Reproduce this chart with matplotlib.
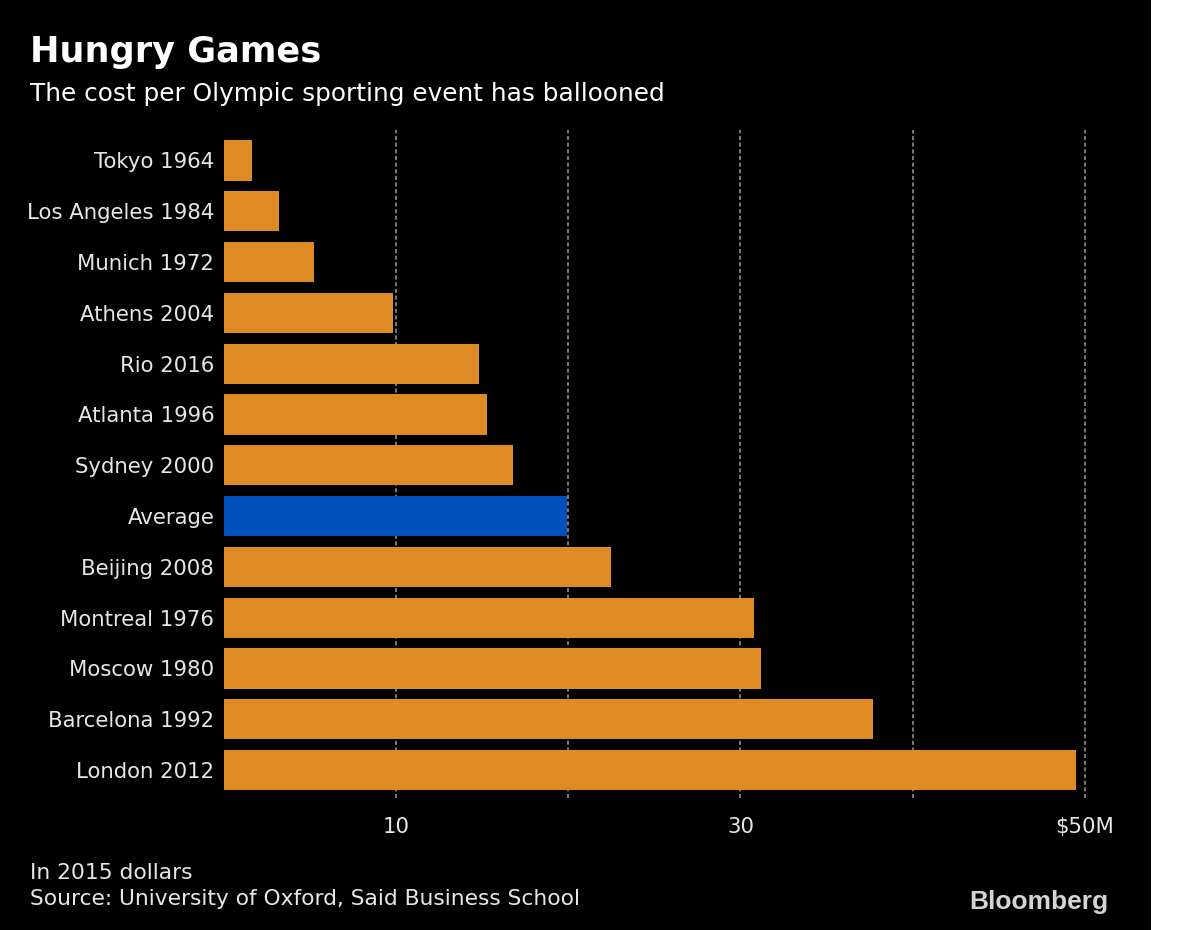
import matplotlib
matplotlib.use("Agg")
from matplotlib import pyplot as plt
from matplotlib.patches import Rectangle

games = ['Tokyo 1964', 'Los Angeles 1984', 'Munich 1972', 'Athens 2004',
         'Rio 2016', 'Atlanta 1996', 'Sydney 2000', 'Average',
         'Beijing 2008', 'Montreal 1976', 'Moscow 1980', 'Barcelona 1992',
         'London 2012']
cost = [1.6, 3.2, 5.2, 9.8, 14.8, 15.3, 16.8, 19.9, 22.5, 30.8, 31.2, 37.7, 49.5]
tick_vals = [10, 30, 50]
tick_labels = ['10', '30', '$50M']
grid_vals = [10, 20, 30, 40, 50]

plt.rcParams['font.family'] = ['DejaVu Sans']

orange = '#DE8A25'
blue = '#0050BE'
txt = '#E6E6E6'

fig = plt.figure(figsize=(12, 9.3), dpi=100, facecolor='black')
# white strip on the right edge
fig.patches.append(Rectangle((1151 / 1200, 0), 49 / 1200, 1, transform=fig.transFigure,
                             facecolor='white', edgecolor='none', zorder=-10))

# axes placed in pixel terms: x 224..1102, y 130..798 (from top)
ax = fig.add_axes([224 / 1200, 1 - 798 / 930, (1102 - 224) / 1200, (798 - 130) / 930])
ax.set_facecolor('black')

colors = [blue if g == 'Average' else orange for g in games]
ax.barh(range(len(games)), cost, height=0.79, color=colors, edgecolor='none', zorder=2)

for g in grid_vals:
    ax.axvline(g, color='#777777', linestyle=(0, (2.0, 1.3)), linewidth=1.45, zorder=1)

ax.set_xlim(0, 51)
ax.set_ylim(12.55, -0.6)
ax.set_yticks(range(len(games)))
ax.set_yticklabels(games, color=txt, fontsize=15.3)
ax.set_xticks(tick_vals)
ax.set_xticklabels(tick_labels, color=txt, fontsize=15.3)
ax.tick_params(axis='both', length=0)
ax.tick_params(axis='y', pad=7)
ax.tick_params(axis='x', pad=14)
for s in ax.spines.values():
    s.set_visible(False)

fig.text(30 / 1200, 1 - 62 / 930, 'Hungry Games', color='white', fontsize=25.3,
         fontweight='bold', ha='left', va='baseline')
fig.text(30 / 1200, 1 - 101 / 930, 'The cost per Olympic sporting event has ballooned',
         color='white', fontsize=17.8, ha='left', va='baseline')
fig.text(30 / 1200, 1 - 879 / 930, 'In 2015 dollars', color=txt, fontsize=15.7,
         ha='left', va='baseline')
fig.text(30 / 1200, 1 - 905 / 930, 'Source: University of Oxford, Said Business School',
         color=txt, fontsize=15.7, ha='left', va='baseline')
fig.text(1108 / 1200, 1 - 909 / 930, 'Bloomberg', color='#D4D4D4', fontsize=19,
         fontweight='heavy', family=['Liberation Sans', 'DejaVu Sans'],
         ha='right', va='baseline')

fig.savefig('out.png', dpi=100, facecolor=fig.get_facecolor())
